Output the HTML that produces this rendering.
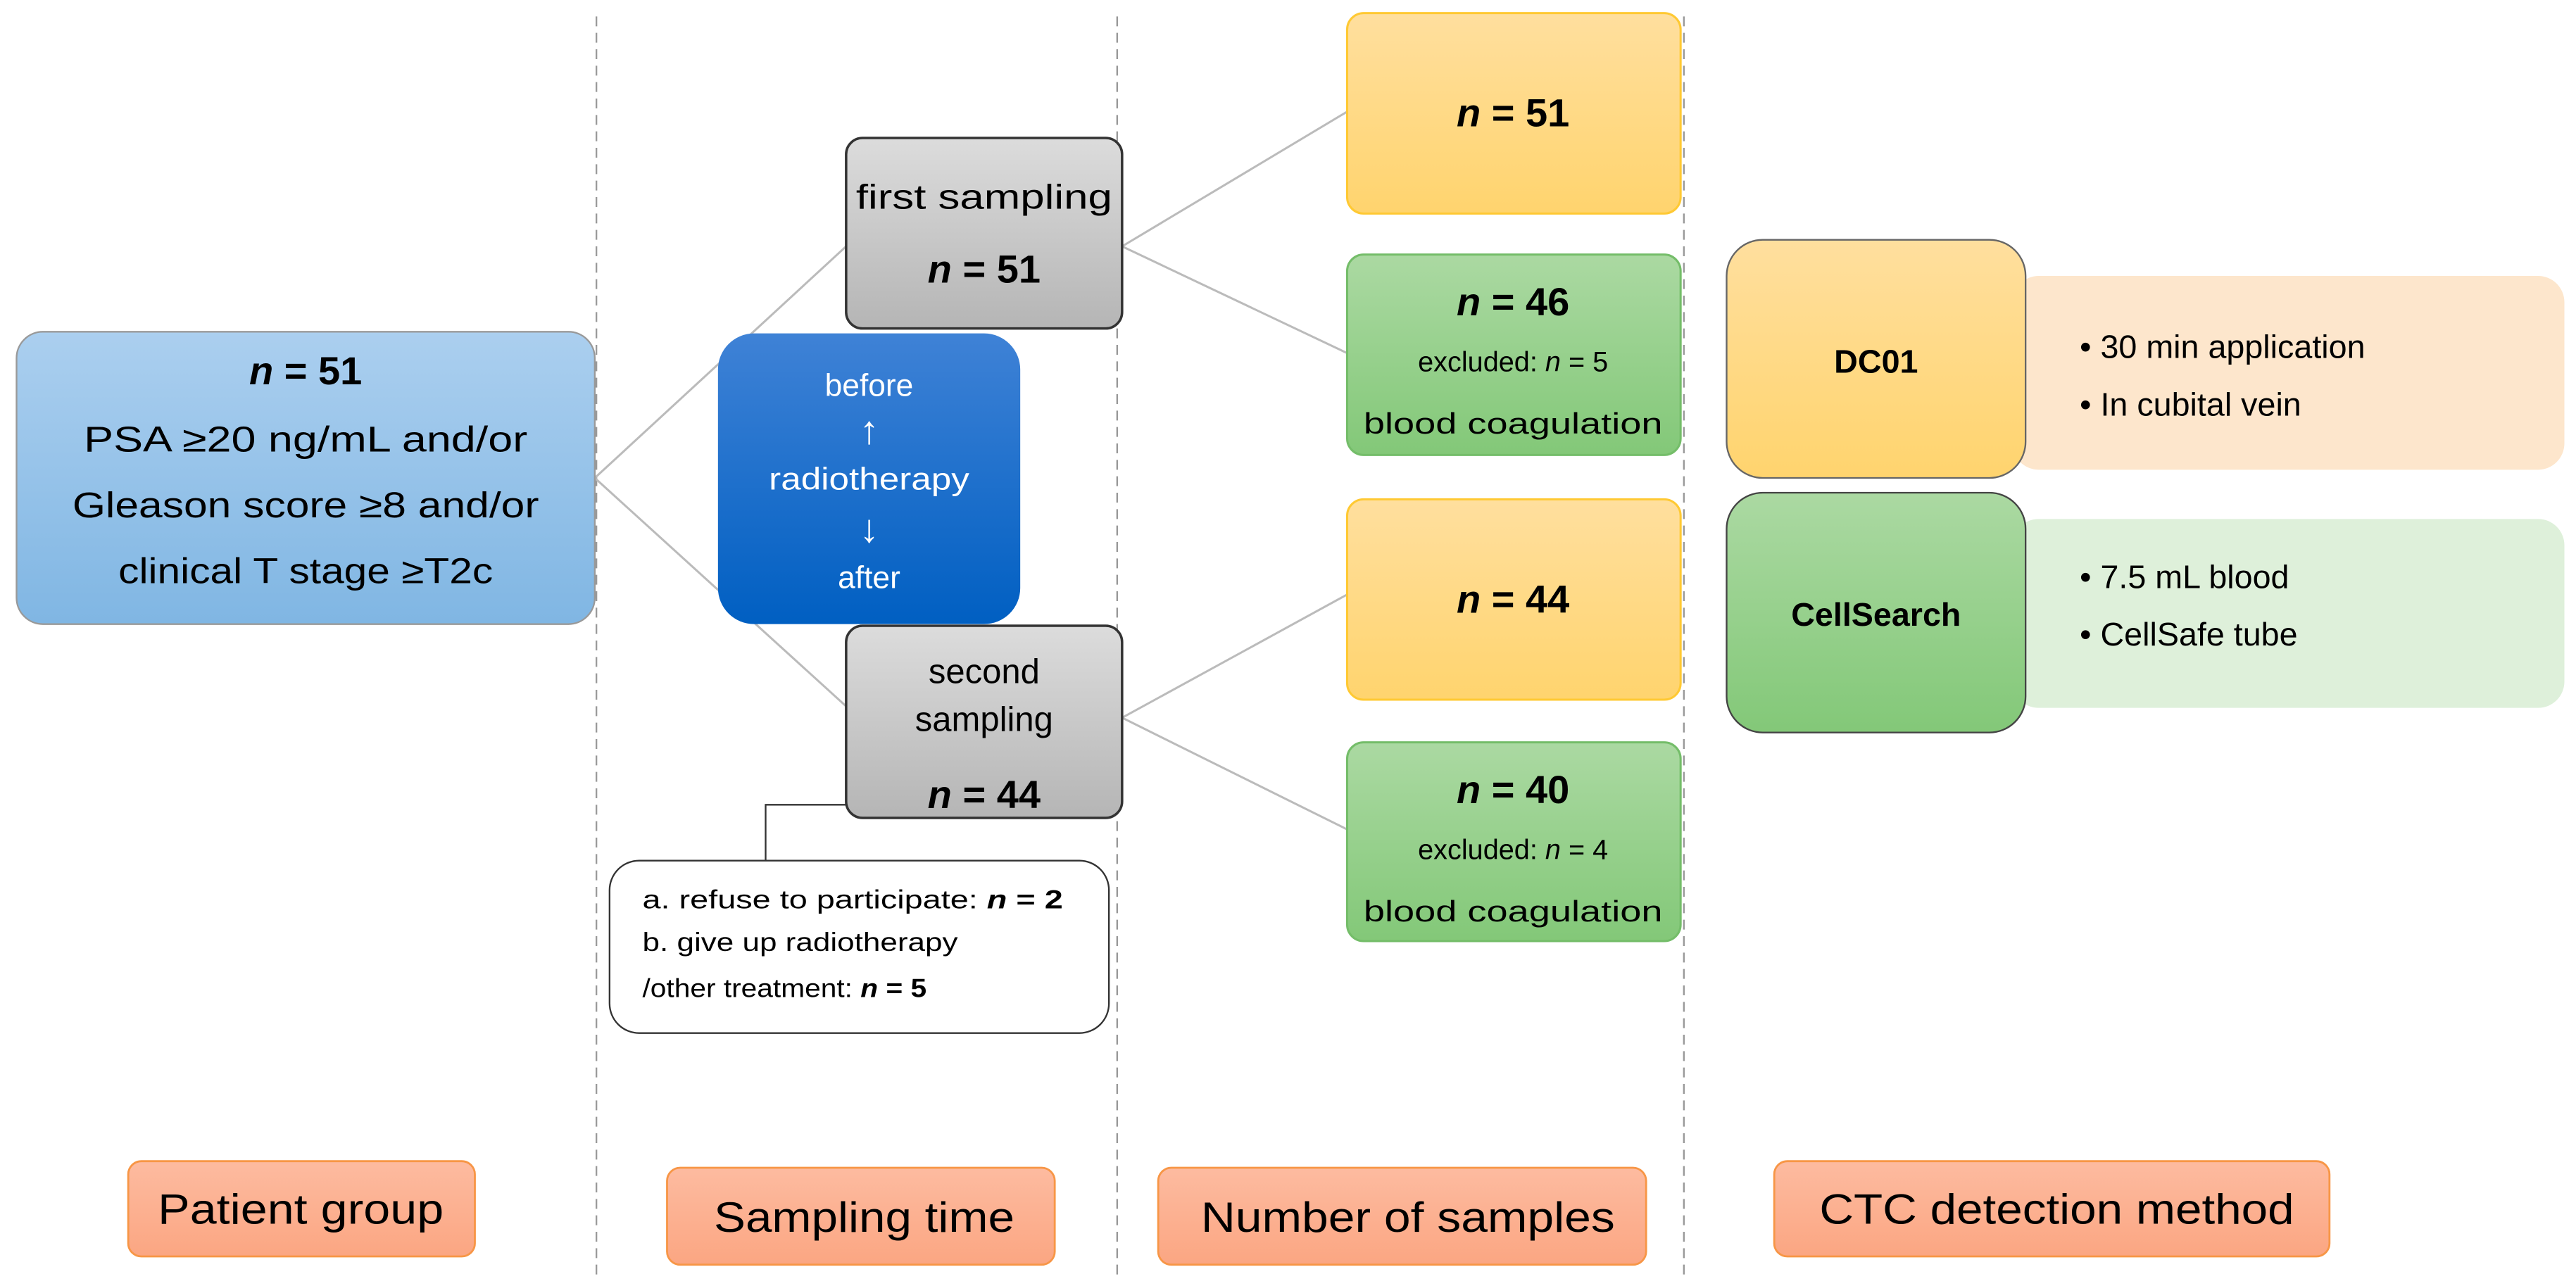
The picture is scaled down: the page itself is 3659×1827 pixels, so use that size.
<!DOCTYPE html>
<html><head><meta charset="utf-8"><style>html,body{margin:0;padding:0;background:#fff}svg{display:block}</style></head>
<body>
<svg width="3659" height="1827" viewBox="0 0 1568 783" xmlns="http://www.w3.org/2000/svg" font-family="'Liberation Sans', sans-serif">
<defs>
<linearGradient id="gb" x1="0" y1="0" x2="0" y2="1"><stop offset="0" stop-color="#abcfef"/><stop offset="1" stop-color="#80b6e3"/></linearGradient>
<linearGradient id="gd" x1="0" y1="0" x2="0" y2="1"><stop offset="0" stop-color="#3f82d6"/><stop offset="1" stop-color="#005fc2"/></linearGradient>
<linearGradient id="gg" x1="0" y1="0" x2="0" y2="1"><stop offset="0" stop-color="#dcdcdc"/><stop offset="1" stop-color="#b5b5b5"/></linearGradient>
<linearGradient id="gy" x1="0" y1="0" x2="0" y2="1"><stop offset="0" stop-color="#ffdf9e"/><stop offset="1" stop-color="#ffd46e"/></linearGradient>
<linearGradient id="gn" x1="0" y1="0" x2="0" y2="1"><stop offset="0" stop-color="#abd9a2"/><stop offset="1" stop-color="#83c878"/></linearGradient>
<linearGradient id="go" x1="0" y1="0" x2="0" y2="1"><stop offset="0" stop-color="#fdbba0"/><stop offset="1" stop-color="#fba682"/></linearGradient>
</defs>
<g stroke="#999" stroke-width="1" stroke-dasharray="6,4">
<line x1="363" y1="10" x2="363" y2="778"/><line x1="680" y1="10" x2="680" y2="778"/><line x1="1025" y1="10" x2="1025" y2="778"/>
</g>
<g stroke="#bbb" stroke-width="1.3" fill="none">
<line x1="362" y1="291" x2="515" y2="150"/><line x1="362" y1="291" x2="515" y2="430"/>
<line x1="683" y1="150" x2="820" y2="68"/><line x1="683" y1="150" x2="820" y2="215"/>
<line x1="683" y1="437" x2="820" y2="362"/><line x1="683" y1="437" x2="820" y2="505"/>
</g>
<polyline points="515,490 466,490 466,524" fill="none" stroke="#333" stroke-width="1"/>
<rect x="10" y="202" width="352" height="178" rx="16" fill="url(#gb)" stroke="#999" stroke-width="1"/>
<g font-size="22" text-anchor="middle" fill="#000">
<text x="186" y="234" font-size="24" font-weight="bold"><tspan font-style="italic">n</tspan> = 51</text>
<text x="186" y="275" textLength="270" lengthAdjust="spacingAndGlyphs">PSA ≥20 ng/mL and/or</text>
<text x="186" y="315" textLength="284" lengthAdjust="spacingAndGlyphs">Gleason score ≥8 and/or</text>
<text x="186" y="355" textLength="228" lengthAdjust="spacingAndGlyphs">clinical T stage ≥T2c</text>
</g>
<rect x="437" y="203" width="184" height="177" rx="22" fill="url(#gd)"/>
<g font-size="19" text-anchor="middle" fill="#fff">
<text x="529" y="241">before</text><text x="529" y="270" font-size="24">↑</text>
<text x="529" y="298" textLength="122" lengthAdjust="spacingAndGlyphs">radiotherapy</text><text x="529" y="330" font-size="24">↓</text>
<text x="529" y="358">after</text>
</g>
<rect x="515" y="84" width="168" height="116" rx="10" fill="url(#gg)" stroke="#333" stroke-width="1.5"/>
<text x="599" y="127" font-size="21" text-anchor="middle" textLength="156" lengthAdjust="spacingAndGlyphs">first sampling</text>
<text x="599" y="172" font-size="24" font-weight="bold" text-anchor="middle"><tspan font-style="italic">n</tspan> = 51</text>
<rect x="515" y="381" width="168" height="117" rx="10" fill="url(#gg)" stroke="#333" stroke-width="1.5"/>
<text x="599" y="416" font-size="21" text-anchor="middle">second</text>
<text x="599" y="445" font-size="21" text-anchor="middle">sampling</text>
<text x="599" y="492" font-size="24" font-weight="bold" text-anchor="middle"><tspan font-style="italic">n</tspan> = 44</text>
<rect x="371" y="524" width="304" height="105" rx="18" fill="#fff" stroke="#333" stroke-width="1"/>
<g font-size="16" fill="#000">
<text x="391" y="553" textLength="256" lengthAdjust="spacingAndGlyphs">a. refuse to participate: <tspan font-weight="bold" font-style="italic">n</tspan><tspan font-weight="bold"> = 2</tspan></text>
<text x="391" y="579" textLength="192" lengthAdjust="spacingAndGlyphs">b. give up radiotherapy</text>
<text x="391" y="607" textLength="173" lengthAdjust="spacingAndGlyphs">/other treatment: <tspan font-weight="bold" font-style="italic">n</tspan><tspan font-weight="bold"> = 5</tspan></text>
</g>
<rect x="820" y="8" width="203" height="122" rx="10" fill="url(#gy)" stroke="#ffc933" stroke-width="1.3"/>
<text x="921" y="77" font-size="24" font-weight="bold" text-anchor="middle"><tspan font-style="italic">n</tspan> = 51</text>
<rect x="820" y="155" width="203" height="122" rx="10" fill="url(#gn)" stroke="#74bd69" stroke-width="1.3"/>
<text x="921" y="192" font-size="24" font-weight="bold" text-anchor="middle"><tspan font-style="italic">n</tspan> = 46</text>
<text x="921" y="226" font-size="17" text-anchor="middle">excluded: <tspan font-style="italic">n</tspan> = 5</text>
<text x="921" y="264" font-size="18" text-anchor="middle" textLength="182" lengthAdjust="spacingAndGlyphs">blood coagulation</text>
<rect x="820" y="304" width="203" height="122" rx="10" fill="url(#gy)" stroke="#ffc933" stroke-width="1.3"/>
<text x="921" y="373" font-size="24" font-weight="bold" text-anchor="middle"><tspan font-style="italic">n</tspan> = 44</text>
<rect x="820" y="452" width="203" height="121" rx="10" fill="url(#gn)" stroke="#74bd69" stroke-width="1.3"/>
<text x="921" y="489" font-size="24" font-weight="bold" text-anchor="middle"><tspan font-style="italic">n</tspan> = 40</text>
<text x="921" y="523" font-size="17" text-anchor="middle">excluded: <tspan font-style="italic">n</tspan> = 4</text>
<text x="921" y="561" font-size="18" text-anchor="middle" textLength="182" lengthAdjust="spacingAndGlyphs">blood coagulation</text>
<rect x="1225" y="168" width="336" height="118" rx="16" fill="#fde6cc"/>
<rect x="1051" y="146" width="182" height="145" rx="22" fill="url(#gy)" stroke="#666" stroke-width="1"/>
<text x="1142" y="227" font-size="20" font-weight="bold" text-anchor="middle">DC01</text>
<g font-size="20"><text x="1266" y="218">• 30 min application</text><text x="1266" y="253">• In cubital vein</text></g>
<rect x="1225" y="316" width="336" height="115" rx="16" fill="#def0da"/>
<rect x="1051" y="300" width="182" height="146" rx="22" fill="url(#gn)" stroke="#444" stroke-width="1"/>
<text x="1142" y="381" font-size="20" font-weight="bold" text-anchor="middle">CellSearch</text>
<g font-size="20"><text x="1266" y="358">• 7.5 mL blood</text><text x="1266" y="393">• CellSafe tube</text></g>
<g stroke="#f79646" stroke-width="1.2">
<rect x="78" y="707" width="211" height="58" rx="8" fill="url(#go)"/>
<rect x="406" y="711" width="236" height="59" rx="8" fill="url(#go)"/>
<rect x="705" y="711" width="297" height="59" rx="8" fill="url(#go)"/>
<rect x="1080" y="707" width="338" height="58" rx="8" fill="url(#go)"/>
</g>
<g font-size="26" text-anchor="middle" fill="#000">
<text x="183" y="745" textLength="174" lengthAdjust="spacingAndGlyphs">Patient group</text>
<text x="526" y="750" textLength="183" lengthAdjust="spacingAndGlyphs">Sampling time</text>
<text x="857" y="750" textLength="252" lengthAdjust="spacingAndGlyphs">Number of samples</text>
<text x="1252" y="745" textLength="289" lengthAdjust="spacingAndGlyphs">CTC detection method</text>
</g>
</svg>
</body></html>
